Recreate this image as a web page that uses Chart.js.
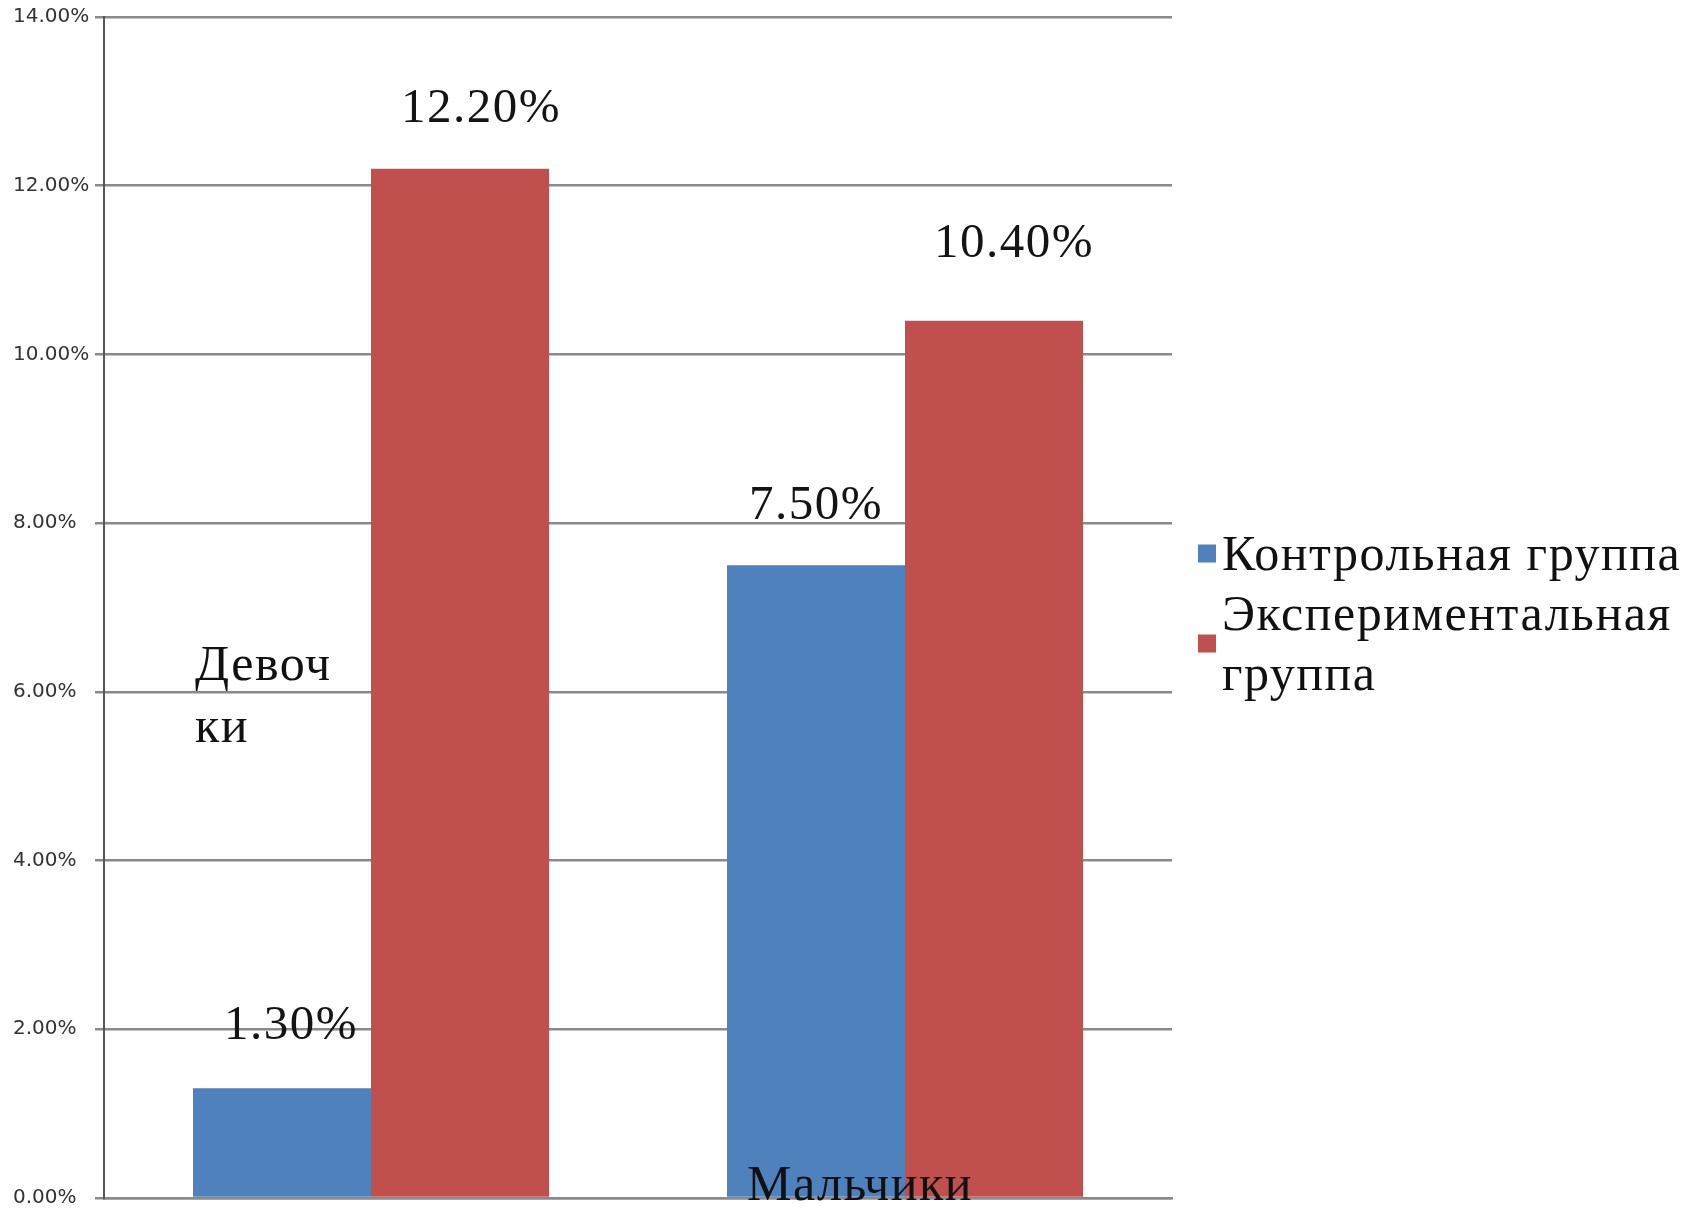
<!DOCTYPE html>
<html lang="ru">
<head>
    <meta charset="UTF-8" />
    <title>Девочки / Мальчики</title>
    <script src="https://cdn.jsdelivr.net/npm/chart.js"></script>
    <style>
        html, body { margin: 0; padding: 0; background: #fff; }
        #wrap { width: 1690px; height: 1216px; position: relative; }
    </style>
</head>
<body>
<div id="wrap">
    <canvas id="groupChart" width="1690" height="1216"></canvas>
</div>

<script>
    // данные
    const categories = [['Девоч', 'ки'], ['Мальчики']];
    const seriesNames = ['Контрольная группа', 'Экспериментальная группа'];
    const controlValues = [1.3, 7.5];
    const experimentValues = [12.2, 10.4];
    const yTicks = [0, 2, 4, 6, 8, 10, 12, 14];

    const colors = ['#4F81BD', '#C0504D'];
    const serif = '"Liberation Serif", "Times New Roman", serif';

    // смещения подписей значений [dx, отступ над столбцом] — по картинке
    const valueLabelNudge = [
        [[9, 49], [0, 46]],
        [[21, 47], [20, 64]]
    ];
    // положение подписей категорий относительно центра категории
    const catLabelPos = [
        { dx: -176, y: 680, lineH: 62 },
        { dx: -158, y: 1200, lineH: 62 }
    ];

    const valueLabels = {
        id: 'valueLabels',
        afterDatasetsDraw(chart) {
            const ctx = chart.ctx;
            ctx.save();
            ctx.font = '49px ' + serif;
            ctx.letterSpacing = '1.5px';
            ctx.fillStyle = '#141414';
            ctx.textAlign = 'center';
            ctx.textBaseline = 'alphabetic';
            chart.data.datasets.forEach((ds, di) => {
                chart.getDatasetMeta(di).data.forEach((bar, i) => {
                    const n = valueLabelNudge[di][i];
                    ctx.fillText(ds.data[i].toFixed(2) + '%', bar.x + n[0], bar.y - n[1]);
                });
            });

            // подписи категорий (как в исходнике — внутри области)
            const xs = chart.scales.x;
            ctx.font = '50px ' + serif;
            ctx.textAlign = 'left';
            ctx.fillStyle = '#111';
            chart.data.labels.forEach((lab, i) => {
                const p = catLabelPos[i];
                const x0 = xs.getPixelForValue(i) + p.dx;
                [].concat(lab).forEach((line, k) => {
                    ctx.fillText(line, x0, p.y + k * p.lineH);
                });
            });
            ctx.restore();
        }
    };

    const sideLegend = {
        id: 'sideLegend',
        afterDraw(chart) {
            const ctx = chart.ctx;
            const boxX = 1198, textX = 1222, box = 18, lineH = 60;
            const maxW = chart.width - textX + 20;
            let y = 570;
            ctx.save();
            ctx.font = '50px ' + serif;
            ctx.letterSpacing = '1.5px';
            ctx.textBaseline = 'alphabetic';
            chart.data.datasets.forEach((ds) => {
                // перенос по словам
                const words = ds.label.split(' ');
                const lines = [];
                let cur = '';
                words.forEach(w => {
                    const t = cur ? cur + ' ' + w : w;
                    if (cur && ctx.measureText(t).width > maxW) { lines.push(cur); cur = w; }
                    else cur = t;
                });
                lines.push(cur);
                const top = y - 33;
                const bottom = y + (lines.length - 1) * lineH;
                const mid = (top + bottom) / 2;
                ctx.fillStyle = ds.backgroundColor;
                ctx.fillRect(boxX, mid - box / 2, box, box);
                ctx.fillStyle = '#111';
                lines.forEach((l, k) => ctx.fillText(l, textX, y + k * lineH));
                y += lines.length * lineH;
            });
            ctx.restore();
        }
    };

    const ctx = document.getElementById('groupChart').getContext('2d');
    new Chart(ctx, {
        type: 'bar',
        data: {
            labels: categories,
            datasets: [
                { label: seriesNames[0], data: controlValues, backgroundColor: colors[0] },
                { label: seriesNames[1], data: experimentValues, backgroundColor: colors[1] }
            ]
        },
        options: {
            responsive: false,
            animation: false,
            layout: { padding: { left: 13, right: 518, top: 17, bottom: 10 } },
            datasets: {
                bar: { categoryPercentage: 2 / 3, barPercentage: 1, borderWidth: 0 }
            },
            plugins: {
                legend: { display: false },
                tooltip: { enabled: false }
            },
            scales: {
                x: {
                    grid: { display: false },
                    border: { display: true, color: '#8a8a8a', width: 2.5 },
                    ticks: { display: false }
                },
                y: {
                    min: yTicks[0],
                    max: yTicks[yTicks.length - 1],
                    afterBuildTicks: (s) => { s.ticks = yTicks.map(v => ({ value: v })); },
                    afterFit: (s) => { s.width = 91; },
                    grid: { color: '#8a8a8a', lineWidth: 2.5, tickLength: 9 },
                    border: { display: true, color: '#555', width: 2 },
                    ticks: {
                        crossAlign: 'far',
                        padding: 5,
                        color: '#333',
                        font: { family: '"DejaVu Sans", Tahoma, sans-serif', size: 20 },
                        callback: (v) => v.toFixed(2) + '%'
                    }
                }
            }
        },
        plugins: [valueLabels, sideLegend]
    });
</script>
</body>
</html>
